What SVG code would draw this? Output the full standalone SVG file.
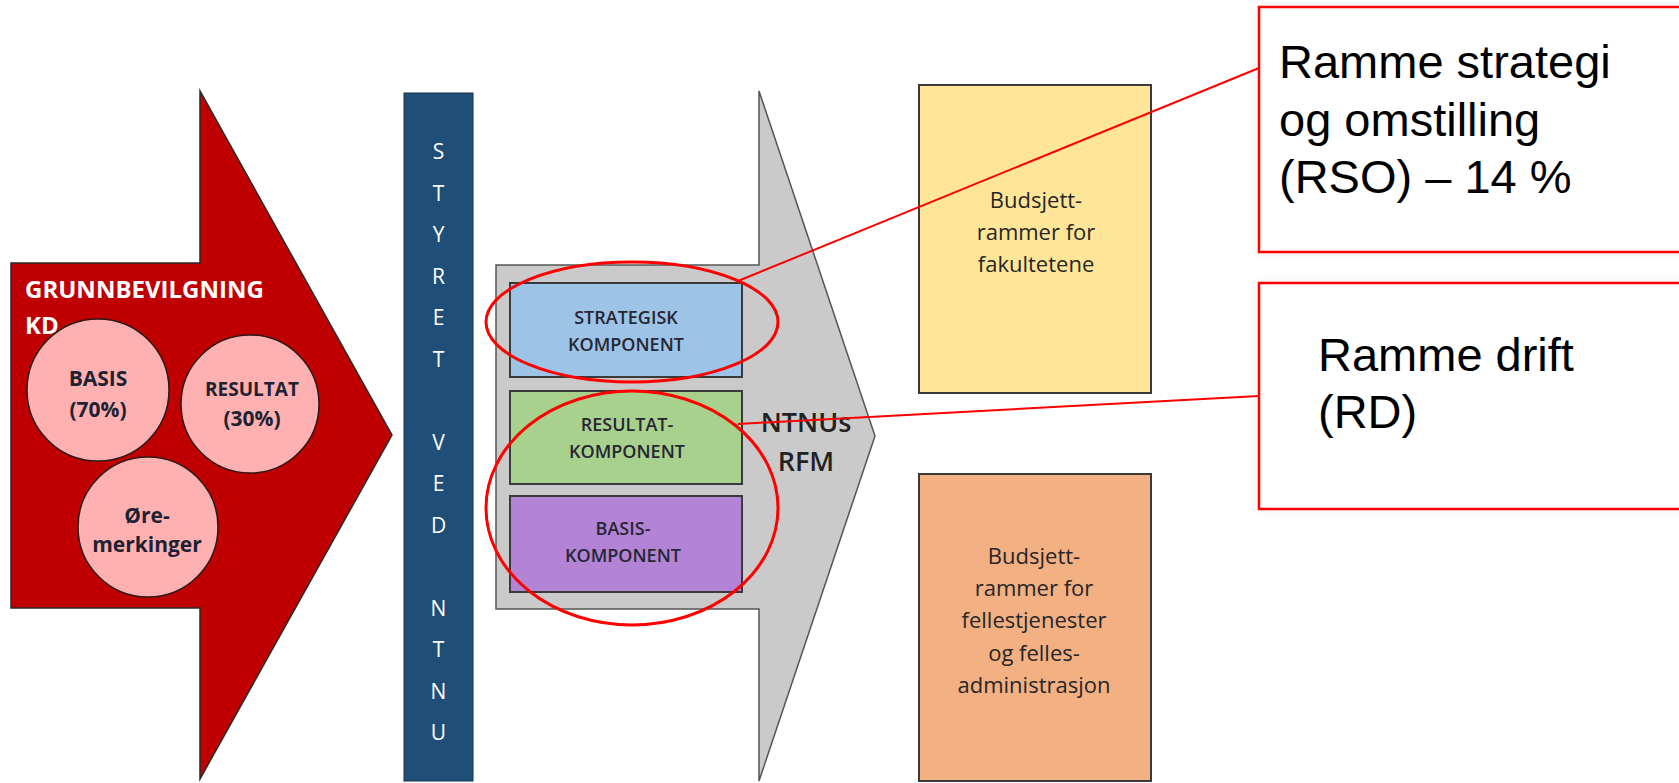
<svg xmlns="http://www.w3.org/2000/svg" width="1679" height="783" viewBox="0 0 1679 783">
<defs>
<style>
.cal{font-family:"Open Sans","Noto Sans","DejaVu Sans",sans-serif}
.arial{font-family:"Liberation Sans",Arial,sans-serif;fill:#000}
.circ{fill:#ffb1b1;stroke:#2a1a1a;stroke-width:1.5}
.ctext{font-family:"Open Sans","Noto Sans",sans-serif;font-weight:700;fill:#1d2233;text-anchor:middle}
.comp{stroke:#3a3a3a;stroke-width:2}
.ctl{font-family:"Open Sans","Noto Sans",sans-serif;font-size:18px;fill:#262634;text-anchor:middle;font-weight:600}
.bud{font-family:"Open Sans","Noto Sans",sans-serif;font-size:22px;fill:#262626;text-anchor:middle}
.bar{font-family:"Open Sans","Noto Sans",sans-serif;font-size:21px;fill:#ffffff;text-anchor:middle}
.callout{fill:#ffffff;stroke:#ff0000;stroke-width:2.5}
.ring{fill:none;stroke:#ff0000;stroke-width:3}
.conn{stroke:#ff0000;stroke-width:2;fill:none}
</style>
<filter id="sh" x="-5%" y="-5%" width="110%" height="110%">
<feDropShadow dx="0" dy="0" stdDeviation="5" flood-color="#000" flood-opacity="0.08"/>
</filter>
</defs>
<rect width="1679" height="783" fill="#ffffff"/>

<g id="grunnbevilgning">
<polygon points="11,263 200,263 200,91 392,435 200,779 200,608 11,608" fill="#c00000" stroke="#2a2a2a" stroke-width="1.5"/>
<text class="cal" x="25" y="298" font-size="24" font-weight="700" fill="#ffffff">GRUNNBEVILGNING</text>
<text class="cal" x="25" y="334" font-size="24" font-weight="700" fill="#ffffff">KD</text>
</g>
<g id="basis">
<circle class="circ" cx="98" cy="390" r="71"/>
<text class="ctext" x="98" y="386" font-size="21">BASIS</text>
<text class="ctext" x="98" y="417" font-size="21">(70%)</text>
</g>
<g id="resultat">
<circle class="circ" cx="250" cy="404" r="69"/>
<text class="ctext" x="252" y="396" font-size="19">RESULTAT</text>
<text class="ctext" x="252" y="426" font-size="21">(30%)</text>
</g>
<g id="oremerkinger">
<circle class="circ" cx="148" cy="527" r="70"/>
<text class="ctext" x="147" y="523" font-size="21">Øre-</text>
<text class="ctext" x="147" y="552" font-size="21">merkinger</text>
</g>

<g id="styret">
<rect x="404" y="93" width="69" height="688" fill="#1f4e79" stroke="#16324d" stroke-width="1"/>
<text class="bar" x="438.5" y="159">S</text>
<text class="bar" x="438.5" y="201">T</text>
<text class="bar" x="438.5" y="242">Y</text>
<text class="bar" x="438.5" y="284">R</text>
<text class="bar" x="438.5" y="325">E</text>
<text class="bar" x="438.5" y="367">T</text>
<text class="bar" x="438.5" y="450">V</text>
<text class="bar" x="438.5" y="491">E</text>
<text class="bar" x="438.5" y="533">D</text>
<text class="bar" x="438.5" y="616">N</text>
<text class="bar" x="438.5" y="657">T</text>
<text class="bar" x="438.5" y="699">N</text>
<text class="bar" x="438.5" y="740">U</text>
</g>

<g id="ntnu-rfm">
<polygon points="496,265 759,265 759,91 875,436 759,781 759,609 496,609" fill="#cbcaca" stroke="#555555" stroke-width="1.5"/>
<text class="cal" x="806" y="432" font-size="27" font-weight="600" fill="#222222" text-anchor="middle">NTNUs</text>
<text class="cal" x="806" y="471" font-size="27" font-weight="600" fill="#222222" text-anchor="middle">RFM</text>
</g>
<g id="strategisk">
<rect class="comp" x="510" y="283" width="232" height="94" fill="#9dc3e6"/>
<text class="ctl" x="626" y="324">STRATEGISK</text>
<text class="ctl" x="626" y="351">KOMPONENT</text>
</g>
<g id="resultatkomponent">
<rect class="comp" x="510" y="391" width="232" height="93" fill="#a9d18e"/>
<text class="ctl" x="627" y="431">RESULTAT-</text>
<text class="ctl" x="627" y="458">KOMPONENT</text>
</g>
<g id="basiskomponent">
<rect class="comp" x="510" y="496" width="232" height="96" fill="#b383d6"/>
<text class="ctl" x="623" y="535">BASIS-</text>
<text class="ctl" x="623" y="562">KOMPONENT</text>
</g>

<g id="fakultetene">
<rect class="comp" x="919" y="85" width="232" height="308" fill="#ffe598"/>
<text class="bud" x="1036" y="208">Budsjett-</text>
<text class="bud" x="1036" y="240">rammer for</text>
<text class="bud" x="1036" y="272">fakultetene</text>
</g>
<g id="fellestjenester">
<rect class="comp" x="919" y="474" width="232" height="307" fill="#f3b083"/>
<text class="bud" x="1034" y="564">Budsjett-</text>
<text class="bud" x="1034" y="596">rammer for</text>
<text class="bud" x="1034" y="628">fellestjenester</text>
<text class="bud" x="1034" y="661">og felles-</text>
<text class="bud" x="1034" y="693">administrasjon</text>
</g>

<g id="rso">
<rect class="callout" x="1259" y="7" width="440" height="245" filter="url(#sh)"/>
<text class="arial" x="1279" y="78" font-size="47">Ramme strategi</text>
<text class="arial" x="1279" y="135.5" font-size="47">og omstilling</text>
<text class="arial" x="1279" y="193" font-size="47">(RSO) – 14 %</text>
</g>
<g id="rd">
<rect class="callout" x="1259" y="283" width="440" height="226" filter="url(#sh)"/>
<text class="arial" x="1318" y="371" font-size="47">Ramme drift</text>
<text class="arial" x="1318" y="428" font-size="47">(RD)</text>
</g>

<g id="highlights">
<ellipse class="ring" cx="632" cy="322" rx="146" ry="60"/>
<ellipse class="ring" cx="632" cy="508" rx="146" ry="117"/>
</g>

<g id="connectors">
<line class="conn" x1="738" y1="281" x2="1259" y2="68"/>
<line class="conn" x1="738" y1="424" x2="1259" y2="396"/>
</g>
</svg>
